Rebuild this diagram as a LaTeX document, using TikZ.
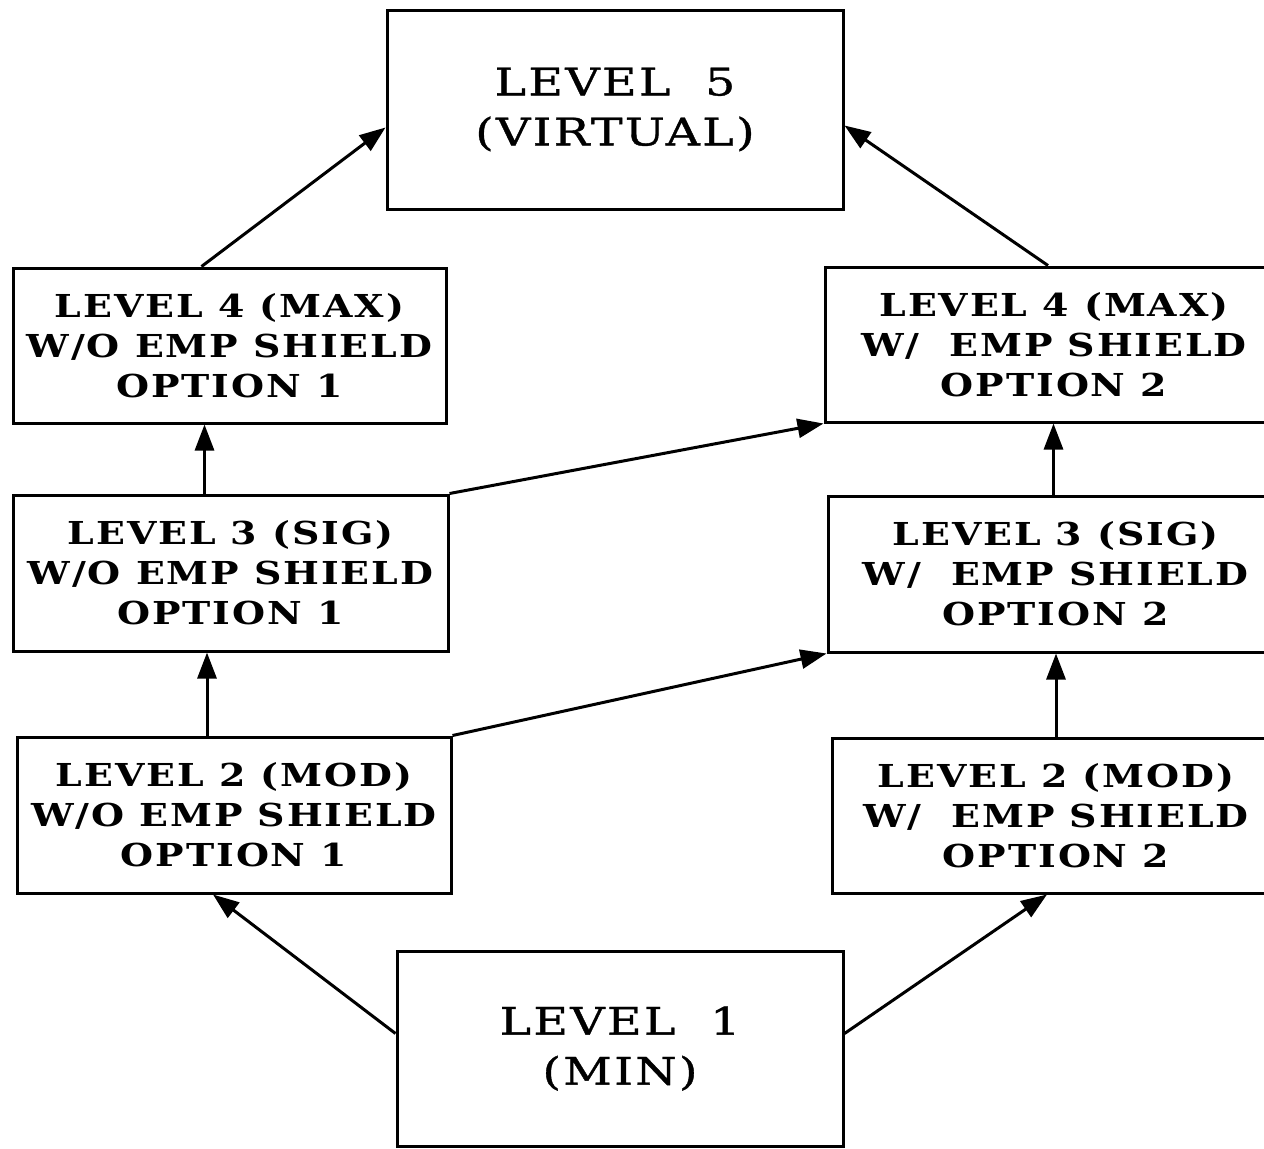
\documentclass[tikz,border=0pt]{standalone}
\usepackage{fontspec}
\setmainfont{DejaVu Serif}
\newfontfamily\optfont[LetterSpace=6,FakeStretch=1.2]{DejaVu Serif}
\newfontfamily\endfont[LetterSpace=6,FakeStretch=1.25,FakeBold=1]{DejaVu Serif}
\usetikzlibrary{arrows.meta}

\tikzset{
  level/.style={draw, line width=1.5pt, align=center, inner sep=0pt,
    font=\optfont\bfseries\fontsize{15.8}{20}\selectfont},
  endlevel/.style={level, font=\endfont\fontsize{19}{25}\selectfont},
  link/.style={->, line width=1.5pt},
  >={Triangle[length=13pt,width=9.5pt]}
}

\begin{document}
\begin{tikzpicture}[x=0.5pt, y=-0.5pt]
			\useasboundingbox (0,0) rectangle (1264,1148);
			% top and bottom of the ladder
			\node[endlevel, minimum width=228pt, minimum height=99.5pt] (l5) at (615,109.5) {LEVEL\ \ 5\\(VIRTUAL)};
			\node[endlevel, minimum width=223pt, minimum height=97.5pt] (l1) at (620,1048.5) {LEVEL\ \ 1\\(MIN)};
			% option 1 column
			\node[level, minimum width=216.5pt, minimum height=77.5pt] (l4a) at (229.5,345.5) {LEVEL 4 (MAX)\\W/O EMP SHIELD\\OPTION 1};
			\node[level, minimum width=217.5pt, minimum height=78pt] (l3a) at (230.5,573) {LEVEL 3 (SIG)\\W/O EMP SHIELD\\OPTION 1};
			\node[level, minimum width=217pt, minimum height=78pt] (l2a) at (234,815) {LEVEL 2 (MOD)\\W/O EMP SHIELD\\OPTION 1};
			% option 2 column (runs off the right edge)
			\node[level, minimum width=229pt, minimum height=77.5pt] (l4b) at (1054,344.5) {LEVEL 4 (MAX)\\W/\ \ EMP SHIELD\\OPTION 2};
			\node[level, minimum width=227.5pt, minimum height=78pt] (l3b) at (1055.5,574) {LEVEL 3 (SIG)\\W/\ \ EMP SHIELD\\OPTION 2};
			\node[level, minimum width=224pt, minimum height=77.5pt] (l2b) at (1056,815.5) {LEVEL 2 (MOD)\\W/\ \ EMP SHIELD\\OPTION 2};
			% arrows
			\draw[link] ([yshift=7.5pt]l1.west) -- ([xshift=-10.5pt]l2a.south);
			\draw[link] ([yshift=7.5pt]l1.east) -- ([xshift=-4.5pt]l2b.south);
			\draw[link] ([xshift=-13.5pt]l2a.north) -- ([xshift=-13.5pt]l2a.north |- l3a.south);
			\draw[link] ([xshift=-13pt]l3a.north) -- ([xshift=-13pt]l3a.north |- l4a.south);
			\draw[link] (l2b.north) -- (l2b.north |- l3b.south);
			\draw[link] ([xshift=-1pt]l3b.north) -- ([xshift=-1pt]l3b.north |- l4b.south);
			\draw[link] (l2a.north east) -- (l3b.south west);
			\draw[link] (l3a.north east) -- (l4b.south west);
			\draw[link] ([xshift=-14pt]l4a.north) -- ([yshift=-9pt]l5.west);
			\draw[link] ([xshift=-3pt]l4b.north) -- ([yshift=-8pt]l5.east);
\end{tikzpicture}
\end{document}
